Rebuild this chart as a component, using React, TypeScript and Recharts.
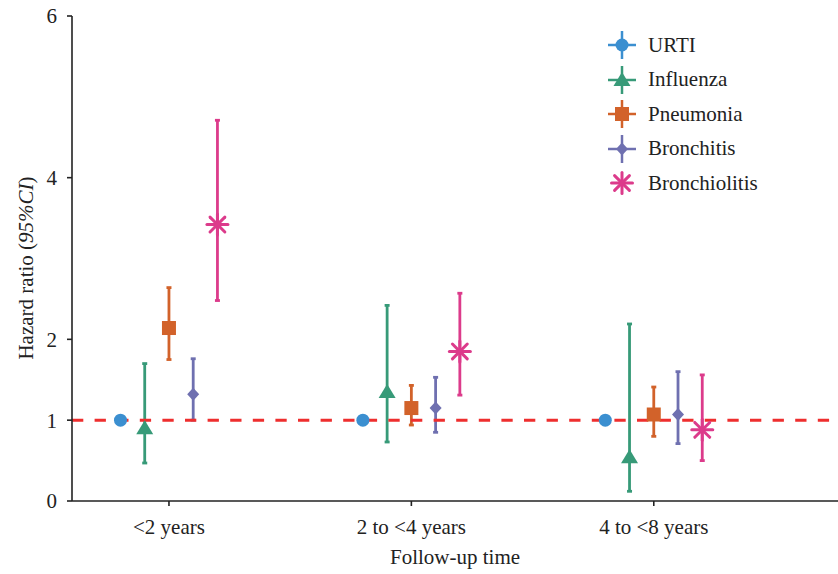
import { ScatterChart, Scatter, XAxis, YAxis, ErrorBar, ReferenceLine } from "recharts";

const categories = ["<2 years", "2 to <4 years", "4 to <8 years"];
const yTicks = [0, 1, 2, 4, 6];

const urtiHR = [1, 1, 1];

const influenzaHR = [0.9, 1.35, 0.54];
const influenzaLow = [0.47, 0.73, 0.12];
const influenzaHigh = [1.7, 2.42, 2.19];

const pneumoniaHR = [2.14, 1.15, 1.07];
const pneumoniaLow = [1.75, 0.94, 0.8];
const pneumoniaHigh = [2.64, 1.43, 1.41];

const bronchitisHR = [1.32, 1.15, 1.07];
const bronchitisLow = [1.0, 0.85, 0.71];
const bronchitisHigh = [1.76, 1.53, 1.6];

const bronchiolitisHR = [3.42, 1.85, 0.88];
const bronchiolitisLow = [2.48, 1.31, 0.5];
const bronchiolitisHigh = [4.71, 2.57, 1.56];

type Kind = "circle" | "triangle" | "square" | "diamond" | "asterisk";

const FONT = "Liberation Serif, Times New Roman, Times, DejaVu Serif, serif";
const TEXT = "#222";
const FS = 21;

function build(hr: number[], low: number[] | null, high: number[] | null, offset: number) {
  return hr.map((v, i) => ({
    x: i + 1 + offset,
    y: v,
    err: low && high ? [v - low[i], high[i] - v] : [0, 0],
  }));
}

const series: { name: string; kind: Kind; color: string; data: ReturnType<typeof build>; bars: boolean }[] = [
  { name: "URTI", kind: "circle", color: "#3b8fd0", data: build(urtiHR, null, null, -0.2), bars: false },
  { name: "Influenza", kind: "triangle", color: "#379a78", data: build(influenzaHR, influenzaLow, influenzaHigh, -0.1), bars: true },
  { name: "Pneumonia", kind: "square", color: "#d2622a", data: build(pneumoniaHR, pneumoniaLow, pneumoniaHigh, 0), bars: true },
  { name: "Bronchitis", kind: "diamond", color: "#6f70b0", data: build(bronchitisHR, bronchitisLow, bronchitisHigh, 0.1), bars: true },
  { name: "Bronchiolitis", kind: "asterisk", color: "#dc3b8b", data: build(bronchiolitisHR, bronchiolitisLow, bronchiolitisHigh, 0.2), bars: true },
];

function Marker({ kind, cx, cy, color }: { kind: Kind; cx: number; cy: number; color: string }) {
  switch (kind) {
    case "circle":
      return <circle cx={cx} cy={cy} r={6.5} fill={color} />;
    case "triangle":
      return <polygon points={`${cx},${cy - 8} ${cx + 8.5},${cy + 6} ${cx - 8.5},${cy + 6}`} fill={color} />;
    case "square":
      return <rect x={cx - 7} y={cy - 7} width={14} height={14} fill={color} />;
    case "diamond":
      return <polygon points={`${cx},${cy - 6.5} ${cx + 6},${cy} ${cx},${cy + 6.5} ${cx - 6},${cy}`} fill={color} />;
    default: {
      const r = 10.5;
      const d = r * Math.SQRT1_2;
      return (
        <g stroke={color} strokeWidth={3} strokeLinecap="round">
          <line x1={cx - r} y1={cy} x2={cx + r} y2={cy} />
          <line x1={cx} y1={cy - r} x2={cx} y2={cy + r} />
          <line x1={cx - d} y1={cy - d} x2={cx + d} y2={cy + d} />
          <line x1={cx - d} y1={cy + d} x2={cx + d} y2={cy - d} />
        </g>
      );
    }
  }
}

function ChartLegend() {
  return (
    <div style={{ position: "absolute", top: 28, left: 606, fontFamily: FONT, fontSize: FS, color: TEXT }}>
      {series.map((s) => (
        <div key={s.name} style={{ display: "flex", alignItems: "center", height: 34.5 }}>
          <svg width={32} height={32} style={{ flex: "none" }}>
            {s.kind !== "asterisk" && (
              <g stroke={s.color} strokeWidth={2.5}>
                <line x1={16} y1={2} x2={16} y2={30} />
                <line x1={2} y1={16} x2={30} y2={16} />
              </g>
            )}
            <Marker kind={s.kind} cx={16} cy={16} color={s.color} />
          </svg>
          <span style={{ marginLeft: 10 }}>{s.name}</span>
        </div>
      ))}
    </div>
  );
}

export default function App() {
  return (
    <div style={{ position: "relative", width: 838, height: 574 }}>
      <style>{"body{margin:0}"}</style>
      <ScatterChart width={838} height={574} margin={{ top: 16, right: 0, bottom: 0, left: 0 }}>
        <XAxis
          type="number"
          dataKey="x"
          domain={[0.6, 3.76]}
          ticks={[1, 2, 3]}
          allowDataOverflow
          tickFormatter={(v: number) => categories[Math.round(v) - 1]}
          height={73}
          tickSize={5}
          tickMargin={13}
          stroke={TEXT}
          strokeWidth={1.6}
          tick={{ fill: TEXT, fontSize: FS, fontFamily: FONT }}
          label={{
            content: ({ viewBox }: any) => (
              <text x={viewBox.x + viewBox.width / 2} y={564} textAnchor="middle" fill={TEXT} fontSize={FS} fontFamily={FONT}>
                Follow-up time
              </text>
            ),
          }}
        />
        <YAxis
          type="number"
          dataKey="y"
          domain={[0, 6]}
          ticks={yTicks}
          width={72}
          tickSize={5}
          tickMargin={10}
          stroke={TEXT}
          strokeWidth={1.6}
          tick={{ fill: TEXT, fontSize: FS, fontFamily: FONT }}
          label={{
            content: () => (
              <text x={33} y={268} transform="rotate(-90 33 268)" textAnchor="middle" fill={TEXT} fontSize={FS} fontFamily={FONT}>
                Hazard ratio (<tspan fontStyle="italic">95%CI</tspan>)
              </text>
            ),
          }}
        />
        {series.map((s) => (
          <Scatter
            key={s.name}
            name={s.name}
            data={s.data}
            fill={s.color}
            isAnimationActive={false}
            shape={(p: any) => <Marker kind={s.kind} cx={p.cx} cy={p.cy} color={s.color} />}
          >
            {s.bars && <ErrorBar dataKey="err" direction="y" width={2.5} strokeWidth={2.8} stroke={s.color} />}
          </Scatter>
        ))}
        <ReferenceLine y={1} stroke="#ee2e2e" strokeWidth={3} strokeDasharray="11.3 11.3" />
      </ScatterChart>
      <ChartLegend />
    </div>
  );
}
